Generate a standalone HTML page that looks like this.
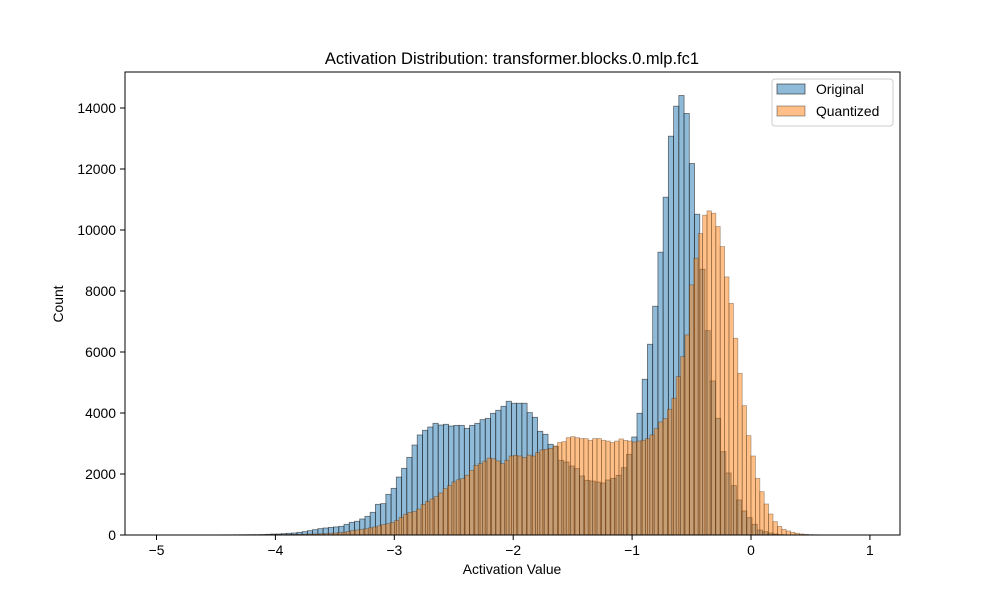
<!DOCTYPE html>
<html><head><meta charset="utf-8"><style>
body{margin:0;background:#fff;}
svg{display:block;font-family:"Liberation Sans","DejaVu Sans",sans-serif;}
</style></head><body>
<svg id="chart" width="1000" height="600" viewBox="0 0 1000 600" xmlns="http://www.w3.org/2000/svg">
<rect width="1000" height="600" fill="#fff"/>
<text x="512" y="64" font-size="16.5" text-anchor="middle" fill="#000">Activation Distribution: transformer.blocks.0.mlp.fc1</text>
<g id="bars-blue"></g>
<g id="bars-orange"></g>
<g id="axes"></g>
<rect x="125" y="72" width="775" height="463" fill="none" stroke="#000" stroke-width="1"/>
<text x="512" y="574" font-size="13.9" text-anchor="middle">Activation Value</text>
<text transform="translate(63,304) rotate(-90)" font-size="13.9" text-anchor="middle">Count</text>
<g>
<rect x="772" y="79" width="121" height="47" rx="3" fill="#fff" fill-opacity="0.8" stroke="#ccc"/>
<rect x="777" y="84" width="28" height="10" fill="rgba(31,119,180,0.5)" stroke="rgba(30,30,30,0.6)"/>
<text x="816" y="94" font-size="13.9">Original</text>
<rect x="777" y="106" width="28" height="10" fill="rgba(255,127,14,0.5)" stroke="rgba(30,30,30,0.4)"/>
<text x="816" y="116" font-size="13.9">Quantized</text>
</g>
</svg>
<script>
const blueStart = -4.611;
const blueWidth = 0.044;
const blueCounts = [2,2,3,4,5,5,6,8,10,11,11,15,22,30,33,44,55,66,87,109,142,175,208,230,250,265,
285,350,415,450,525,612,744,1006,1028,1334,1530,1900,2186,2546,2950,3280,3433,3540,3662,3606,3630,3573,3595,3595,3497,3595,3662,3782,3825,
3990,4089,4220,4385,4319,4319,4319,4013,3859,3400,3302,2974,2897,2449,2394,2263,2176,1935,1793,1771,1738,1706,1804,1859,1957,2208,2646,
3214,3991,5106,6254,7501,9272,11076,13076,14060,14410,13820,12180,10518,8714,6700,5051,3827,2733,2034,1618,1148,787,568,350,164,109,66,33,11];
const orangeStart = -4.255;
const orangeWidth = 0.037;
const orangeCounts = [2,3,4,5,6,8,10,11,13,15,17,20,22,25,28,32,36,42,48,55,65,76,
87,115,145,165,185,205,235,262,300,345,370,410,480,580,680,740,770,850,1000,1100,1180,1260,1380,1520,1620,1740,1810,1850,1960,2120,2280,2340,2420,2520,
2500,2430,2340,2450,2590,2610,2590,2540,2620,2590,2700,2790,2810,2840,2920,3030,3060,3190,3225,3190,3160,3160,3105,3160,3160,3105,3080,3030,3080,3150,3100,3080,3050,3080,
3105,3160,3280,3488,3706,3816,4122,4483,5193,5849,6560,
8200,9075,9884,10485,10627,10550,10113,9457,8462,7593,
6450,5300,4240,3258,2590,1858,1421,1017,689,437,284,186,131,87,55,33,22,11,8,5,3];
const xTicks = [-5,-4,-3,-2,-1,0,1];
const yTicks = [0,2000,4000,6000,8000,10000,12000,14000];

const NS = "http://www.w3.org/2000/svg";
function xs(v){ return 751 + v*118.9; }
function ys(c){ return 535 - c*0.0305; }

function drawBars(gid, start, width, counts, fill, stroke, name){
  const g = document.getElementById(gid);
  counts.forEach((c,i)=>{
    const x0 = xs(start + i*width), x1 = xs(start + (i+1)*width);
    const r = document.createElementNS(NS,'rect');
    r.setAttribute('x', x0); r.setAttribute('width', x1-x0);
    r.setAttribute('y', ys(c)); r.setAttribute('height', ys(0)-ys(c));
    r.setAttribute('fill', fill); r.setAttribute('stroke', stroke); r.setAttribute('stroke-width','0.8');
    
    
    g.appendChild(r);
  });
}
drawBars('bars-blue', blueStart, blueWidth, blueCounts, 'rgba(31,119,180,0.5)', 'rgba(20,20,20,0.6)', 'original-bar');
drawBars('bars-orange', orangeStart, orangeWidth, orangeCounts, 'rgba(255,127,14,0.5)', 'rgba(60,40,20,0.4)', 'quantized-bar');

const ax = document.getElementById('axes');
xTicks.forEach(t=>{
  const l = document.createElementNS(NS,'line');
  l.setAttribute('x1', xs(t)); l.setAttribute('x2', xs(t)); l.setAttribute('y1',535); l.setAttribute('y2',540);
  l.setAttribute('stroke','#000');
  
  
  ax.appendChild(l);
  const tx = document.createElementNS(NS,'text');
  tx.setAttribute('x', xs(t)); tx.setAttribute('y', 555); tx.setAttribute('font-size','13.9'); tx.setAttribute('text-anchor','middle');
  tx.textContent = t < 0 ? '\u2212' + Math.abs(t) : String(t);
  
  
  ax.appendChild(tx);
});
yTicks.forEach(t=>{
  const l = document.createElementNS(NS,'line');
  l.setAttribute('x1', 120); l.setAttribute('x2', 125); l.setAttribute('y1', ys(t)); l.setAttribute('y2', ys(t));
  l.setAttribute('stroke','#000');
  
  
  ax.appendChild(l);
  const tx = document.createElementNS(NS,'text');
  tx.setAttribute('x', 116); tx.setAttribute('y', ys(t)+5); tx.setAttribute('font-size','13.9'); tx.setAttribute('text-anchor','end');
  tx.textContent = String(t);
  
  
  ax.appendChild(tx);
});
</script>
</body></html>
